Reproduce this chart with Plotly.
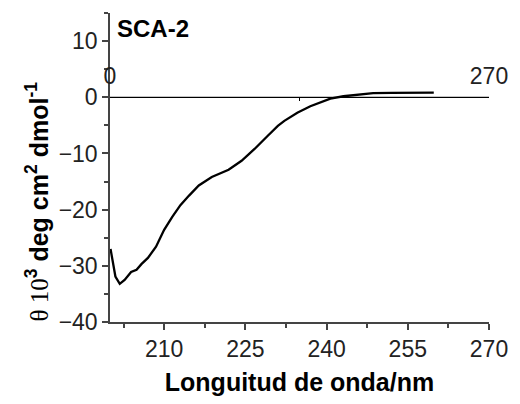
import plotly.graph_objects as go

# Data (SCA-2)
wavelength_nm = [200.1, 200.6, 201.0, 201.8, 202.7, 203.9, 204.9, 205.8, 207.0, 208.5,
                 210.0, 211.5, 213.0, 214.6, 216.4, 218.8, 221.9, 224.3, 226.7, 229.1,
                 231.0, 232.2, 234.6, 237.0, 239.0, 240.7, 243.1, 245.5, 246.0, 248.6,
                 252.0, 256.0, 259.8]
theta = [-27.0, -29.8, -31.9, -33.2, -32.5, -31.1, -30.7, -29.7, -28.6, -26.6,
         -23.6, -21.3, -19.2, -17.5, -15.7, -14.2, -12.9, -11.3, -9.2, -6.9,
         -5.1, -4.2, -2.75, -1.6, -0.8, -0.25, 0.18, 0.40, 0.5, 0.75,
         0.8, 0.82, 0.82]

x_ticks = [210, 225, 240, 255, 270]
y_ticks = [-40, -30, -20, -10, 0, 10]
x_range = [200, 270]
y_range = [-40, 15]
top_axis_vals = [0, 270]
top_axis_text = ["0", "270"]

FONT = "Liberation Sans, Arial, sans-serif"

fig = go.Figure()
fig.add_trace(go.Scatter(x=wavelength_nm, y=theta, mode="lines",
                         line=dict(color="black", width=2.3), showlegend=False,
                         hoverinfo="skip"))
# secondary (zero) axis carrier trace
fig.add_trace(go.Scatter(x=top_axis_vals, y=[0, 0], xaxis="x2", mode="lines",
                         line=dict(color="black", width=1), showlegend=False,
                         hoverinfo="skip"))

axis_common = dict(showgrid=False, zeroline=False, showline=True,
                   linecolor="#444", linewidth=1.5, ticks="outside",
                   tickcolor="#444", tickwidth=1.5, ticklen=6,
                   tickfont=dict(family=FONT, size=23, color="#222"))

zero_pos = (0 - y_range[0]) / (y_range[1] - y_range[0])

fig.update_layout(
    width=520, height=404,
    margin=dict(l=110, r=28, t=13, b=79),
    paper_bgcolor="white", plot_bgcolor="white",
    xaxis=dict(range=x_range, tickvals=x_ticks, **axis_common,
               minor=dict(tick0=202.5, dtick=7.5, ticks="outside", ticklen=4,
                          tickcolor="#444", tickwidth=1.5),
               title=dict(text="<b>Longuitud de onda/nm</b>", standoff=12,
                          font=dict(family=FONT, size=25, color="black"))),
    yaxis=dict(range=y_range, tickvals=y_ticks, **axis_common,
               minor=dict(tick0=-35, dtick=5, ticks="outside", ticklen=4,
                          tickcolor="#444", tickwidth=1.5)),
    xaxis2=dict(range=[0, 270], overlaying="x", anchor="free", position=zero_pos,
                side="top", showgrid=False, zeroline=False, showline=True,
                linecolor="black", linewidth=1, ticks="inside", ticklen=6,
                tickcolor="black", tickvals=top_axis_vals, ticktext=top_axis_text,
                ticklabelstandoff=4,
                minor=dict(tickvals=[135], ticks="inside", ticklen=3,
                           tickcolor="black"),
                tickfont=dict(family=FONT, size=23, color="#222")),
    annotations=[
        dict(text="<b>SCA-2</b>", x=0.013, y=1.0, xref="paper", yref="paper",
             xanchor="left", yanchor="top", showarrow=False,
             font=dict(family=FONT, size=24, color="black")),
        dict(text="<span style='font-family:Liberation Serif'>θ 10</span><b><sup>3</sup> deg cm<sup>2</sup> dmol<sup>-1</sup></b>",
             x=-0.19, y=0.39, xref="paper", yref="paper", textangle=-90,
             xanchor="center", yanchor="middle", showarrow=False,
             font=dict(family=FONT, size=25, color="black")),
    ],
)

fig.write_html("out.html")
